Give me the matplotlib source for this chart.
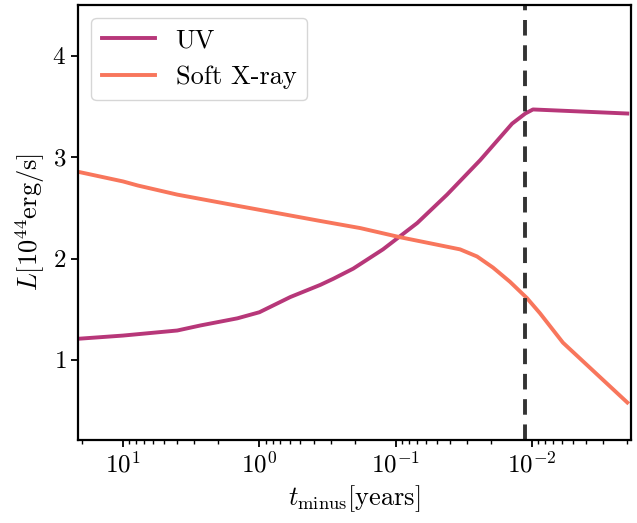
import numpy as np
import matplotlib
matplotlib.use('Agg')
import matplotlib.pyplot as plt

plt.rcParams['font.family'] = 'serif'
plt.rcParams['font.serif'] = ['cmr10', 'DejaVu Serif']
plt.rcParams['mathtext.fontset'] = 'cm'
plt.rcParams['axes.formatter.use_mathtext'] = True
plt.rcParams['axes.unicode_minus'] = False

# time before event [years]
t_uv = [20.5, 10, 4.0, 2.7, 1.45, 1.0, 0.593, 0.357, 0.287, 0.205, 0.124,
        0.0695, 0.042, 0.024, 0.014, 0.0112, 0.00984, 0.0020]
L_uv = [1.21, 1.24, 1.29, 1.34, 1.41, 1.47, 1.62, 1.74, 1.80, 1.90, 2.09,
        2.35, 2.63, 2.97, 3.33, 3.43, 3.47, 3.43]

t_x = [20.5, 10, 7.8, 4.0, 1.45, 0.357, 0.182, 0.093, 0.0559, 0.0337,
       0.0253, 0.0193, 0.0145, 0.0109, 0.00874, 0.00593, 0.0020]
L_x = [2.85, 2.76, 2.72, 2.63, 2.52, 2.37, 2.30, 2.21, 2.15, 2.09,
       2.02, 1.91, 1.77, 1.61, 1.46, 1.17, 0.58]

t_mark = 0.0113

fig = plt.figure(figsize=(6.37, 5.23), dpi=100)
ax = fig.add_axes([0.1225, 0.1587, 0.868, 0.8317])

ax.plot(t_uv, L_uv, color='#b73779', lw=2.8, label='UV')
ax.plot(t_x, L_x, color='#f8765c', lw=2.8, label='Soft X-ray')
ax.axvline(t_mark, color='#333333', ls='--', lw=2.8, dashes=(4, 2.5))

ax.set_xscale('log')
ax.set_xlim(21.4, 0.00188)
ax.set_ylim(0.21, 4.5)
ax.set_yticks([1, 2, 3, 4])
ax.tick_params(labelsize=18, width=1.3, length=5)
ax.tick_params(which='minor', width=1, length=3)
for s in ax.spines.values():
    s.set_linewidth(1.6)

ax.set_xlabel(r'$t_{\rm minus}[{\rm years}]$', fontsize=19)
ax.set_ylabel(r'$L[10^{44}{\rm erg/s}]$', fontsize=19)
ax.legend(loc='upper left', fontsize=19, fancybox=True)

fig.savefig('out.png', dpi=100)
